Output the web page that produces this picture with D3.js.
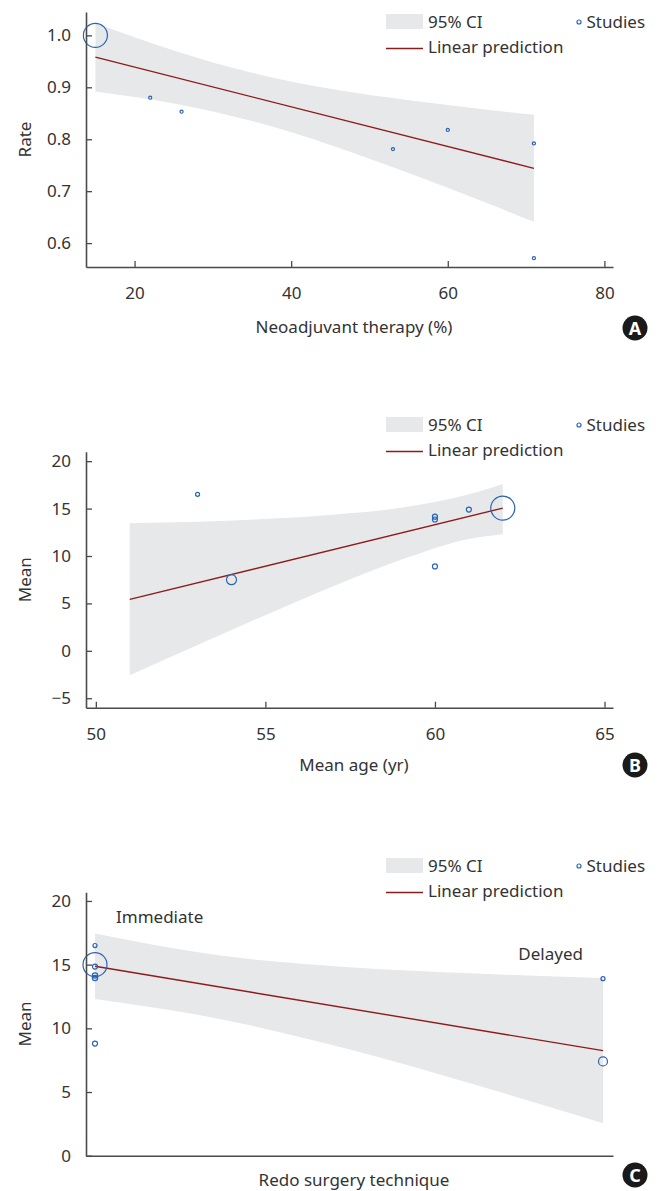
<!DOCTYPE html>
<html>
<head>
<meta charset="utf-8">
<script src="https://cdn.jsdelivr.net/npm/d3@7"></script>
<style>
  body { margin: 0; background: #fff; }
  svg text { font-family: "Noto Sans", sans-serif; fill: #333; }
</style>
</head>
<body>
<div id="chart"></div>
<script>
// Panel A: neoadjuvant therapy vs rate
const aStudyX = [15, 22, 26, 53, 60, 71, 71];
const aStudyY = [1.0, 0.88, 0.853, 0.781, 0.818, 0.792, 0.571];
const aStudyW = [90, 1.5, 1.5, 1.5, 1.5, 1.5, 1.5];
const aFitX = [15, 71];
const aFitY = [0.958, 0.744];
const aBandX = [15, 25, 35, 45, 55, 65, 71];
const aBandLo = [0.892, 0.869, 0.835, 0.789, 0.735, 0.677, 0.641];
const aBandHi = [1.024, 0.971, 0.928, 0.897, 0.875, 0.857, 0.847];
const aTicksX = [20, 40, 60, 80];
const aTicksY = [0.6, 0.7, 0.8, 0.9, 1.0];

// Panel B: mean age vs mean
const bStudyX = [53, 54, 60, 60, 60, 61, 62];
const bStudyY = [16.5, 7.5, 14.15, 13.85, 8.9, 14.9, 15.05];
const bStudyW = [1.7, 10.4, 2.6, 2.6, 2.6, 2.6, 60];
const bFitX = [51, 62];
const bFitY = [5.42, 15.05];
const bBandX = [51, 53, 55, 57, 59, 61, 62];
const bBandLo = [-2.58, 0.61, 3.76, 6.8, 9.6, 11.8, 12.3];
const bBandHi = [13.45, 13.6, 13.9, 14.35, 15.1, 16.5, 17.6];
const bTicksX = [50, 55, 60, 65];
const bTicksY = [-5, 0, 5, 10, 15, 20];

// Panel C: redo surgery technique (0 = Immediate, 1 = Delayed) vs mean
const cCategories = ["Immediate", "Delayed"];
const cStudyX = [0, 0, 0, 0, 0, 0, 1, 1];
const cStudyY = [16.5, 15.0, 14.85, 14.15, 13.95, 8.8, 13.9, 7.4];
const cStudyW = [1.7, 60, 2.6, 3, 3, 2.6, 1.7, 8.4];
const cFitX = [0, 1];
const cFitY = [14.87, 8.25];
const cBandX = [0, 0.25, 0.5, 0.75, 1];
const cBandLo = [12.3, 10.7, 8.35, 5.55, 2.55];
const cBandHi = [17.45, 15.7, 14.8, 14.3, 13.95];
const cTicksY = [0, 5, 10, 15, 20];

const legendLabels = ["95% CI", "Linear prediction", "Studies"];

const bandColor = "#e7e8ea";
const fitColor = "#8e1b1b";
const dotColor = "#2a64b4";
const axisColor = "#4a4a4a";

const svg = d3.select("#chart")
    .append("svg")
    .attr("width", 660)
    .attr("height", 1191);

const panels = [
    {
        studyX: aStudyX, studyY: aStudyY, studyW: aStudyW,
        fitX: aFitX, fitY: aFitY,
        bandX: aBandX, bandLo: aBandLo, bandHi: aBandHi,
        ticksX: aTicksX, ticksY: aTicksY, fmtY: d3.format(".1f"),
        xDomain: [13.8, 81.1], yDomain: [0.554, 1.045],
        top: 12, bottom: 267,
        yTitle: "Rate", xTitle: "Neoadjuvant therapy (%)", titleY: 333,
        legendY: 14, badge: "A", badgeY: 328
    },
    {
        studyX: bStudyX, studyY: bStudyY, studyW: bStudyW,
        fitX: bFitX, fitY: bFitY,
        bandX: bBandX, bandLo: bBandLo, bandHi: bBandHi,
        ticksX: bTicksX, ticksY: bTicksY, fmtY: d3.format("d"),
        xDomain: [49.71, 65.25], yDomain: [-6, 21],
        top: 451.7, bottom: 707.7,
        yTitle: "Mean", xTitle: "Mean age (yr)", titleY: 771,
        legendY: 417, badge: "B", badgeY: 765
    },
    {
        studyX: cStudyX, studyY: cStudyY, studyW: cStudyW,
        fitX: cFitX, fitY: cFitY,
        bandX: cBandX, bandLo: cBandLo, bandHi: cBandHi,
        ticksX: [], ticksY: cTicksY, fmtY: d3.format("d"),
        xDomain: [-0.0177, 1.0197], yDomain: [0, 20.68],
        top: 892.3, bottom: 1155.7,
        yTitle: "Mean", xTitle: "Redo surgery technique", titleY: 1186,
        legendY: 858, badge: "C", badgeY: 1175,
        categories: cCategories
    }
];

const left = 86, right = 613;

panels.forEach(p => {
    const g = svg.append("g");

    const x = d3.scaleLinear().domain(p.xDomain).range([left, right]);
    const y = d3.scaleLinear().domain(p.yDomain).range([p.bottom, p.top]);
    const r = d3.scaleSqrt().domain([0, d3.max(p.studyW)]).range([0, 12]);

    // confidence band
    const band = p.bandX.map((v, i) => ({ x: v, lo: p.bandLo[i], hi: p.bandHi[i] }));
    g.append("path")
        .datum(band)
        .attr("fill", bandColor)
        .attr("d", d3.area()
            .x(d => x(d.x))
            .y0(d => y(d.lo))
            .y1(d => y(d.hi))
            .curve(d3.curveMonotoneX));

    // linear prediction
    const fit = p.fitX.map((v, i) => [v, p.fitY[i]]);
    g.append("path")
        .datum(fit)
        .attr("fill", "none")
        .attr("stroke", fitColor)
        .attr("stroke-width", 1.4)
        .attr("d", d3.line().x(d => x(d[0])).y(d => y(d[1])));

    // studies
    const studies = p.studyX.map((v, i) => ({ x: v, y: p.studyY[i], w: p.studyW[i] }));
    g.selectAll(".study")
        .data(studies)
        .enter()
        .append("circle")
        .attr("cx", d => x(d.x))
        .attr("cy", d => y(d.y))
        .attr("r", d => r(d.w))
        .attr("fill", "none")
        .attr("stroke", dotColor)
        .attr("stroke-width", 1.2);

    // axes
    const yAxis = g.append("g")
        .attr("transform", `translate(${left},0)`)
        .call(d3.axisLeft(y).tickValues(p.ticksY).tickFormat(p.fmtY)
            .tickSizeInner(-6).tickSizeOuter(0).tickPadding(15));
    const xAxis = g.append("g")
        .attr("transform", `translate(0,${p.bottom})`)
        .call(d3.axisBottom(x).tickValues(p.ticksX).tickFormat(d3.format("d"))
            .tickSizeInner(-6).tickSizeOuter(0).tickPadding(20));
    [yAxis, xAxis].forEach(a => {
        a.select(".domain").attr("stroke", axisColor).attr("stroke-width", 1.6);
        a.selectAll(".tick line").attr("stroke", axisColor).attr("stroke-width", 1.3);
        a.selectAll(".tick text")
            .style("font-family", "'Noto Sans', sans-serif")
            .style("font-size", "17px")
            .attr("fill", "#333");
    });

    // axis titles
    g.append("text")
        .attr("transform", `translate(31,${(p.top + p.bottom) / 2}) rotate(-90)`)
        .attr("text-anchor", "middle")
        .style("font-size", "17px")
        .text(p.yTitle);
    g.append("text")
        .attr("x", 354)
        .attr("y", p.titleY)
        .attr("text-anchor", "middle")
        .style("font-size", "17px")
        .text(p.xTitle);

    // category labels (panel C)
    if (p.categories) {
        g.append("text")
            .attr("x", x(0) + 21)
            .attr("y", y(18.3))
            .style("font-size", "17px")
            .text(p.categories[0]);
        g.append("text")
            .attr("x", x(1) - 20)
            .attr("y", y(15.35))
            .attr("text-anchor", "end")
            .style("font-size", "17px")
            .text(p.categories[1]);
    }

    // legend
    const lg = g.append("g").attr("transform", `translate(386,${p.legendY})`);
    lg.append("rect")
        .attr("width", 37).attr("height", 15)
        .attr("fill", bandColor);
    lg.append("text")
        .attr("x", 42).attr("y", 14)
        .style("font-size", "17px")
        .text(legendLabels[0]);
    lg.append("line")
        .attr("x1", 0).attr("x2", 37)
        .attr("y1", 34.5).attr("y2", 34.5)
        .attr("stroke", fitColor).attr("stroke-width", 1.4);
    lg.append("text")
        .attr("x", 42).attr("y", 38.5)
        .style("font-size", "17px")
        .text(legendLabels[1]);
    lg.append("circle")
        .attr("cx", 193).attr("cy", 8)
        .attr("r", 2)
        .attr("fill", "none")
        .attr("stroke", dotColor)
        .attr("stroke-width", 1.2);
    lg.append("text")
        .attr("x", 200.5).attr("y", 14)
        .style("font-size", "17px")
        .text(legendLabels[2]);

    // panel badge
    g.append("circle")
        .attr("cx", 635).attr("cy", p.badgeY)
        .attr("r", 12.5)
        .attr("fill", "#1a1a1a");
    g.append("text")
        .attr("x", 635).attr("y", p.badgeY + 6.5)
        .attr("text-anchor", "middle")
        .style("font-size", "18px")
        .style("font-weight", "bold")
        .style("fill", "#fff")
        .text(p.badge);
});
</script>
</body>
</html>
